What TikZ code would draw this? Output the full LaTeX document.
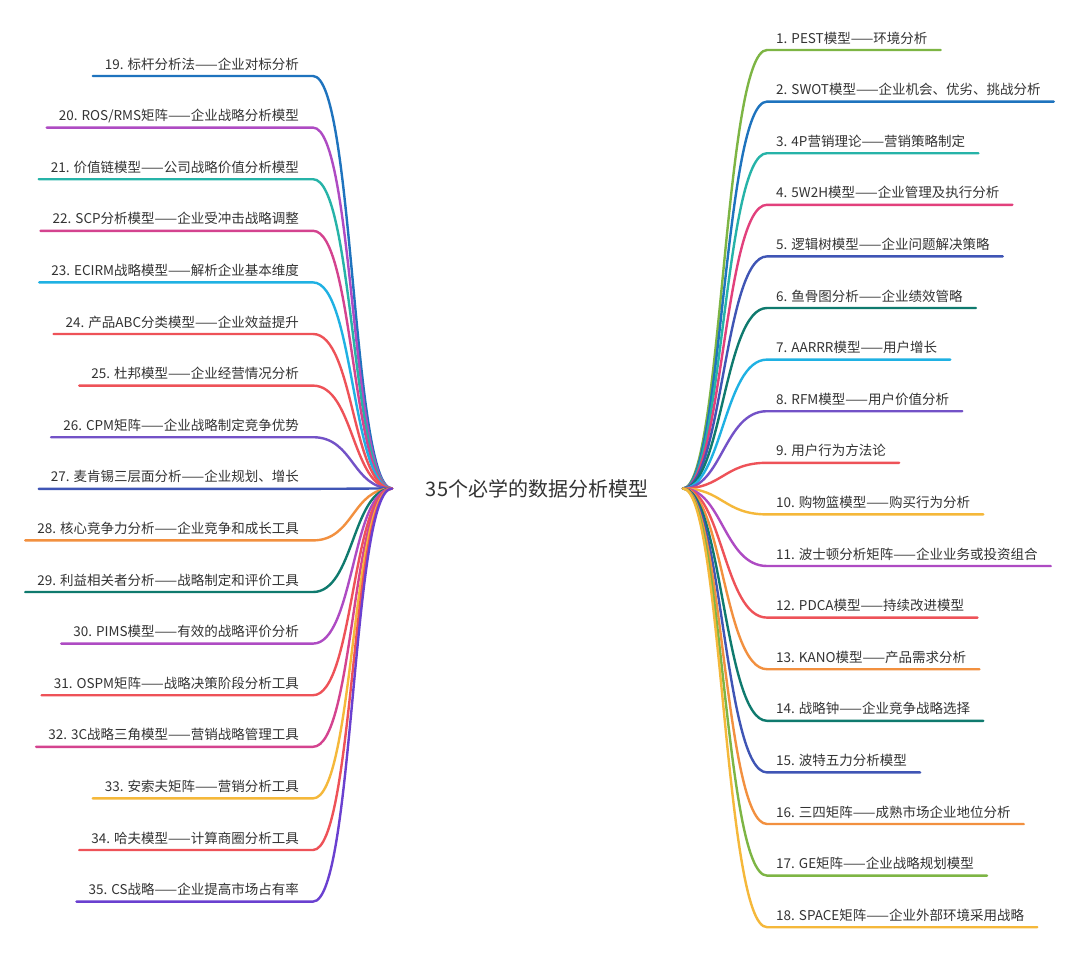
\documentclass[tikz,border=0pt]{standalone}
\usepackage{fontspec}
\setmainfont{Noto Sans CJK SC}
\definecolor{txt}{HTML}{333333}
\definecolor{cgreen}{HTML}{7DB544}
\definecolor{cblue}{HTML}{1E73BE}
\definecolor{cteal}{HTML}{26B3A8}
\definecolor{cpink}{HTML}{E2407C}
\definecolor{cindigo}{HTML}{3F55B5}
\definecolor{cdteal}{HTML}{0F7A6E}
\definecolor{ccyan}{HTML}{1FB1E3}
\definecolor{cpurple}{HTML}{7352C7}
\definecolor{cred}{HTML}{EE5258}
\definecolor{cyellow}{HTML}{F5B83A}
\definecolor{cmagenta}{HTML}{AE4BC3}
\definecolor{corange}{HTML}{F2903F}
\definecolor{crose}{HTML}{D4438F}
\definecolor{cviolet}{HTML}{6A40D0}
\begin{document}
\begin{tikzpicture}[x=1pt,y=-1pt,
  branch/.style={line width=2.4pt,line cap=round},
  rlabel/.style={anchor=base west,inner sep=0pt,text=txt,font=\fontsize{13.5}{15}\selectfont},
  llabel/.style={anchor=base east,inner sep=0pt,text=txt,font=\fontsize{13.5}{15}\selectfont},
  rootlabel/.style={inner sep=0pt,text=txt,font=\fontsize{20}{24}\selectfont}]
\fill[white] (0,0) rectangle (1080,953);
\useasboundingbox (0,0) rectangle (1080,953);
\node[rootlabel] (root) at (537,489) {35个必学的数据分析模型};
\coordinate (Ro) at (683,488.5);
\coordinate (Lo) at (392,488.5);
% right side
\foreach \n/\c/\t in {
 1/cgreen/{1. PEST模型——环境分析},
 2/cblue/{2. SWOT模型——企业机会、优劣、挑战分析},
 3/cteal/{3. 4P营销理论——营销策略制定},
 4/cpink/{4. 5W2H模型——企业管理及执行分析},
 5/cindigo/{5. 逻辑树模型——企业问题解决策略},
 6/cdteal/{6. 鱼骨图分析——企业绩效管略},
 7/ccyan/{7. AARRR模型——用户增长},
 8/cpurple/{8. RFM模型——用户价值分析},
 9/cred/{9. 用户行为方法论},
 10/cyellow/{10. 购物篮模型——购买行为分析},
 11/cmagenta/{11. 波士顿分析矩阵——企业业务或投资组合},
 12/cred/{12. PDCA模型——持续改进模型},
 13/corange/{13. KANO模型——产品需求分析},
 14/cdteal/{14. 战略钟——企业竞争战略选择},
 15/cindigo/{15. 波特五力分析模型},
 16/corange/{16. 三四矩阵——成熟市场企业地位分析},
 17/cgreen/{17. GE矩阵——企业战略规划模型},
 18/cyellow/{18. SPACE矩阵——企业外部环境采用战略}} {
  \pgfmathsetmacro\yy{50+(\n-1)*51.6}
  \node[rlabel] (r\n) at (776,\yy-7) {\t};
  \coordinate (re\n) at (767,\yy);
  \draw[branch,color=\c] (Ro) .. controls (722,488.5) and (724,\yy) .. (re\n) -- ([xshift=13pt]r\n.east |- re\n);
}
% left side
\foreach \n/\c/\t in {
 19/cblue/{19. 标杆分析法——企业对标分析},
 20/cmagenta/{20. ROS/RMS矩阵——企业战略分析模型},
 21/cteal/{21. 价值链模型——公司战略价值分析模型},
 22/crose/{22. SCP分析模型——企业受冲击战略调整},
 23/ccyan/{23. ECIRM战略模型——解析企业基本维度},
 24/cred/{24. 产品ABC分类模型——企业效益提升},
 25/cred/{25. 杜邦模型——企业经营情况分析},
 26/cpurple/{26. CPM矩阵——企业战略制定竞争优势},
 27/cindigo/{27. 麦肯锡三层面分析——企业规划、增长},
 28/corange/{28. 核心竞争力分析——企业竞争和成长工具},
 29/cdteal/{29. 利益相关者分析——战略制定和评价工具},
 30/cmagenta/{30. PIMS模型——有效的战略评价分析},
 31/cred/{31. OSPM矩阵——战略决策阶段分析工具},
 32/crose/{32. 3C战略三角模型——营销战略管理工具},
 33/cyellow/{33. 安索夫矩阵——营销分析工具},
 34/cred/{34. 哈夫模型——计算商圈分析工具},
 35/cviolet/{35. CS战略——企业提高市场占有率}} {
  \pgfmathsetmacro\yy{76+(\n-19)*51.6}
  \node[llabel] (l\n) at (299,\yy-7) {\t};
  \coordinate (le\n) at (313,\yy);
  \draw[branch,color=\c] ([xshift=-12pt]l\n.west |- le\n) -- (le\n) .. controls (354,\yy) and (352,488.5) .. (Lo);
}
\end{tikzpicture}
\end{document}
